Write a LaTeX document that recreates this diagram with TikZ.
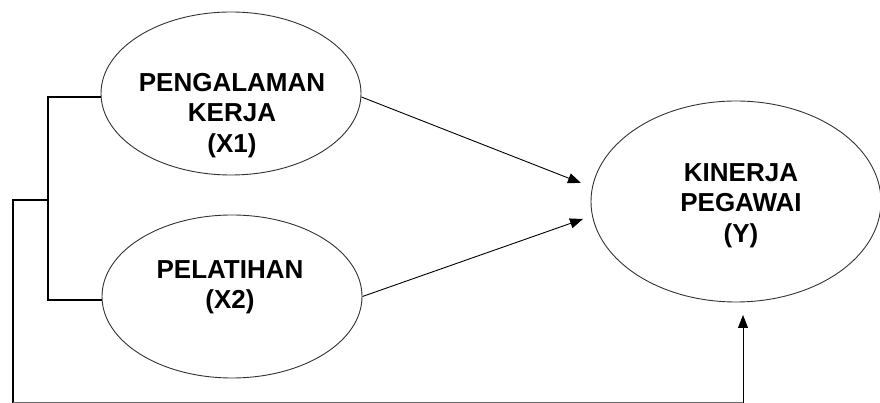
\documentclass[tikz,border=0pt]{standalone}
\usepackage{fontspec}
\setmainfont{Liberation Sans}
\usetikzlibrary{arrows.meta,shapes.geometric}
\begin{document}
\begin{tikzpicture}[x=1pt,y=1pt,
  oval/.style={draw=black!80,line width=0.9pt,ellipse,inner sep=0pt},
  lbl/.style={font=\fontsize{26}{30.5}\selectfont\bfseries,align=center,inner sep=0pt,anchor=north},
  bracket/.style={draw=black,line width=1.8pt},
  conn/.style={draw=black,line width=0.9pt,-{Triangle[length=13pt,width=10pt]}}]
\useasboundingbox (0,0) rectangle (880,403);
\node[oval,minimum width=260pt,minimum height=163pt] (x1) at (231,309.5) {};
\node[oval,minimum width=260pt,minimum height=163pt] (x2) at (232,106.5) {};
\node[oval,minimum width=290pt,minimum height=201pt] (y) at (736,201.5) {};
\node[lbl] (tx1) at (232,330) {PENGALAMAN\\KERJA\\(X1)};
\node[lbl] (tx2) at (230,143) {PELATIHAN\\(X2)};
\node[lbl] (ty) at (741,240) {KINERJA\\PEGAWAI\\(Y)};
\coordinate (t1) at (581,220);
\coordinate (t2) at (583,184);
\coordinate (t3) at (743,88);
\coordinate (j) at (48,203);
\coordinate (c) at (13,0);
\draw[conn] ([yshift=-3.5pt]x1.east) -- (t1);
\draw[conn] (x2.east) -- (t2);
\draw[bracket] ([yshift=-3.5pt]x1.west) -| (j) |- ([yshift=-3.5pt]x2.west);
\draw[bracket] (j) -| (c);
\draw[draw=black!60,line width=1pt] (c) -- (743,0);
\draw[conn] (743,0) -- (t3);
\end{tikzpicture}
\end{document}
